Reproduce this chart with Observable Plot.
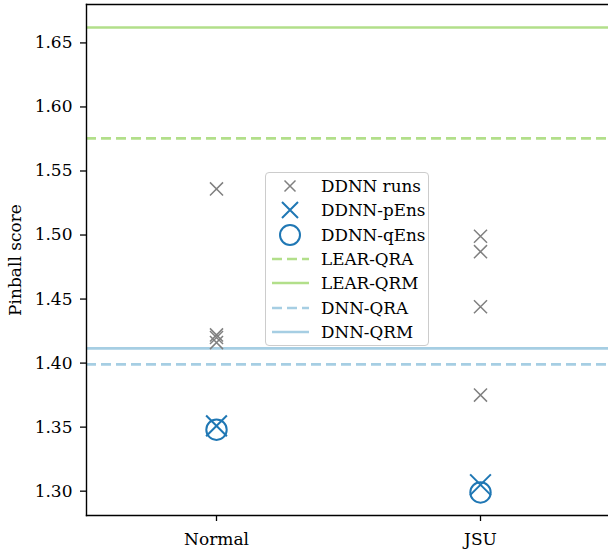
<!DOCTYPE html>
<html>
<head>
<meta charset="utf-8">
<script src="https://cdn.jsdelivr.net/npm/d3@7"></script>
<script src="https://cdn.jsdelivr.net/npm/@observablehq/plot@0.6"></script>
<style>
  html, body { margin: 0; padding: 0; background: #fff; overflow: hidden; }
  #wrap { position: relative; width: 608px; height: 551px; overflow: hidden; font-family: "DejaVu Serif", serif; }
  #wrap > svg { max-width: none !important; display: block; }
  #legend {
    position: absolute; left: 265px; top: 172px; width: 164px; height: 174px;
    box-sizing: border-box; border: 1.2px solid #cccccc; border-radius: 4px;
    background: rgba(255,255,255,0.8); font-size: 16.8px; color: #000;
  }
  #legend .row { position: absolute; left: 0; height: 24px; display: flex; align-items: center; }
  #legend svg { display: block; }
  #legend span { position: absolute; left: 55px; white-space: nowrap; }
</style>
</head>
<body>
<div id="wrap"></div>
<script>
// ---- data ----
const distributions = ["Normal", "JSU"];
const runsNormal = [1.536, 1.422, 1.420, 1.416];
const runsJSU = [1.499, 1.487, 1.444, 1.375];
const pEnsValues = [1.351, 1.305];
const qEnsValues = [1.348, 1.299];
const benchmarkNames = ["LEAR-QRA", "LEAR-QRM", "DNN-QRA", "DNN-QRM"];
const benchmarkValues = [1.5755, 1.662, 1.399, 1.4115];
const yTicks = [1.30, 1.35, 1.40, 1.45, 1.50, 1.55, 1.60, 1.65];
const yDomain = [1.281, 1.680];

const gray = "#808080", blue = "#1f77b4", lgreen = "#b2df8a", lblue = "#a6cee3";
const benchStyle = {
  "LEAR-QRA": {stroke: lgreen, dash: "10,5"},
  "LEAR-QRM": {stroke: lgreen, dash: null},
  "DNN-QRA": {stroke: lblue, dash: "10,5"},
  "DNN-QRM": {stroke: lblue, dash: null}
};

const runs = [
  ...runsNormal.map(v => ({dist: "Normal", value: v})),
  ...runsJSU.map(v => ({dist: "JSU", value: v}))
];
const pEns = distributions.map((d, i) => ({dist: d, value: pEnsValues[i]}));
const qEns = distributions.map((d, i) => ({dist: d, value: qEnsValues[i]}));
const bench = benchmarkNames.map((n, i) => ({name: n, value: benchmarkValues[i]}));

// the axes box runs past the window's right edge, so there is no right spine in view
const chart = Plot.plot({
  width: 640,
  height: 551,
  marginLeft: 86,
  marginRight: 0,
  marginTop: 4,
  marginBottom: 36,
  style: {fontFamily: "DejaVu Serif", fontSize: "17px", color: "#000", background: "#fff", overflow: "hidden"},
  x: {type: "point", domain: distributions, padding: 0.549, align: 0.4483},
  y: {domain: yDomain},
  marks: [
    ...benchmarkNames.map(n => Plot.ruleY(bench.filter(d => d.name === n), {
      y: "value", stroke: benchStyle[n].stroke, strokeWidth: 2.6,
      strokeDasharray: benchStyle[n].dash
    })),
    Plot.dot(runs, {x: "dist", y: "value", symbol: "times", r: 6, stroke: gray, strokeWidth: 1.5}),
    Plot.dot(pEns, {x: "dist", y: "value", symbol: "times", r: 9.5, stroke: blue, strokeWidth: 2}),
    Plot.dot(qEns, {x: "dist", y: "value", symbol: "circle", r: 10.2, stroke: blue, strokeWidth: 2, fill: "none"}),
    Plot.frame({anchor: "left", stroke: "#000", strokeWidth: 1.4}),
    Plot.frame({anchor: "top", stroke: "#000", strokeWidth: 1.4}),
    Plot.frame({anchor: "bottom", stroke: "#000", strokeWidth: 1.4}),
    Plot.axisY({ticks: yTicks, tickFormat: d3.format(".2f"), tickSize: 6, tickPadding: 8, strokeWidth: 1.3,
      label: "Pinball score", labelAnchor: "center", labelOffset: 78, labelArrow: "none"}),
    Plot.axisX({tickSize: 6, tickPadding: 11, label: null, strokeWidth: 1.3})
  ]
});
document.getElementById("wrap").appendChild(chart);

// ---- legend ----
const legendItems = [
  {label: "DDNN runs", kind: "x", stroke: gray, size: 5.5, sw: 1.5},
  {label: "DDNN-pEns", kind: "x", stroke: blue, size: 8, sw: 2},
  {label: "DDNN-qEns", kind: "o", stroke: blue, size: 10, sw: 2},
  {label: "LEAR-QRA", kind: "line", stroke: lgreen, dash: "10,5"},
  {label: "LEAR-QRM", kind: "line", stroke: lgreen, dash: null},
  {label: "DNN-QRA", kind: "line", stroke: lblue, dash: "10,5"},
  {label: "DNN-QRM", kind: "line", stroke: lblue, dash: null}
];
const legend = d3.select("#wrap").append("div").attr("id", "legend");
legendItems.forEach((it, i) => {
  const row = legend.append("div").attr("class", "row").style("top", (1 + i * 24.3) + "px");
  const svg = row.append("svg").attr("width", 50).attr("height", 24);
  const cx = 24, cy = 12;
  if (it.kind === "x") {
    svg.append("path").attr("d", `M${cx - it.size},${cy - it.size}L${cx + it.size},${cy + it.size}M${cx - it.size},${cy + it.size}L${cx + it.size},${cy - it.size}`)
      .attr("stroke", it.stroke).attr("stroke-width", it.sw).attr("fill", "none");
  } else if (it.kind === "o") {
    svg.append("circle").attr("cx", cx).attr("cy", cy).attr("r", it.size)
      .attr("stroke", it.stroke).attr("stroke-width", it.sw).attr("fill", "none");
  } else {
    svg.append("line").attr("x1", 6).attr("x2", 43).attr("y1", cy).attr("y2", cy)
      .attr("stroke", it.stroke).attr("stroke-width", 2.6).attr("stroke-dasharray", it.dash);
  }
  row.append("span").text(it.label);
});
</script>
</body>
</html>
